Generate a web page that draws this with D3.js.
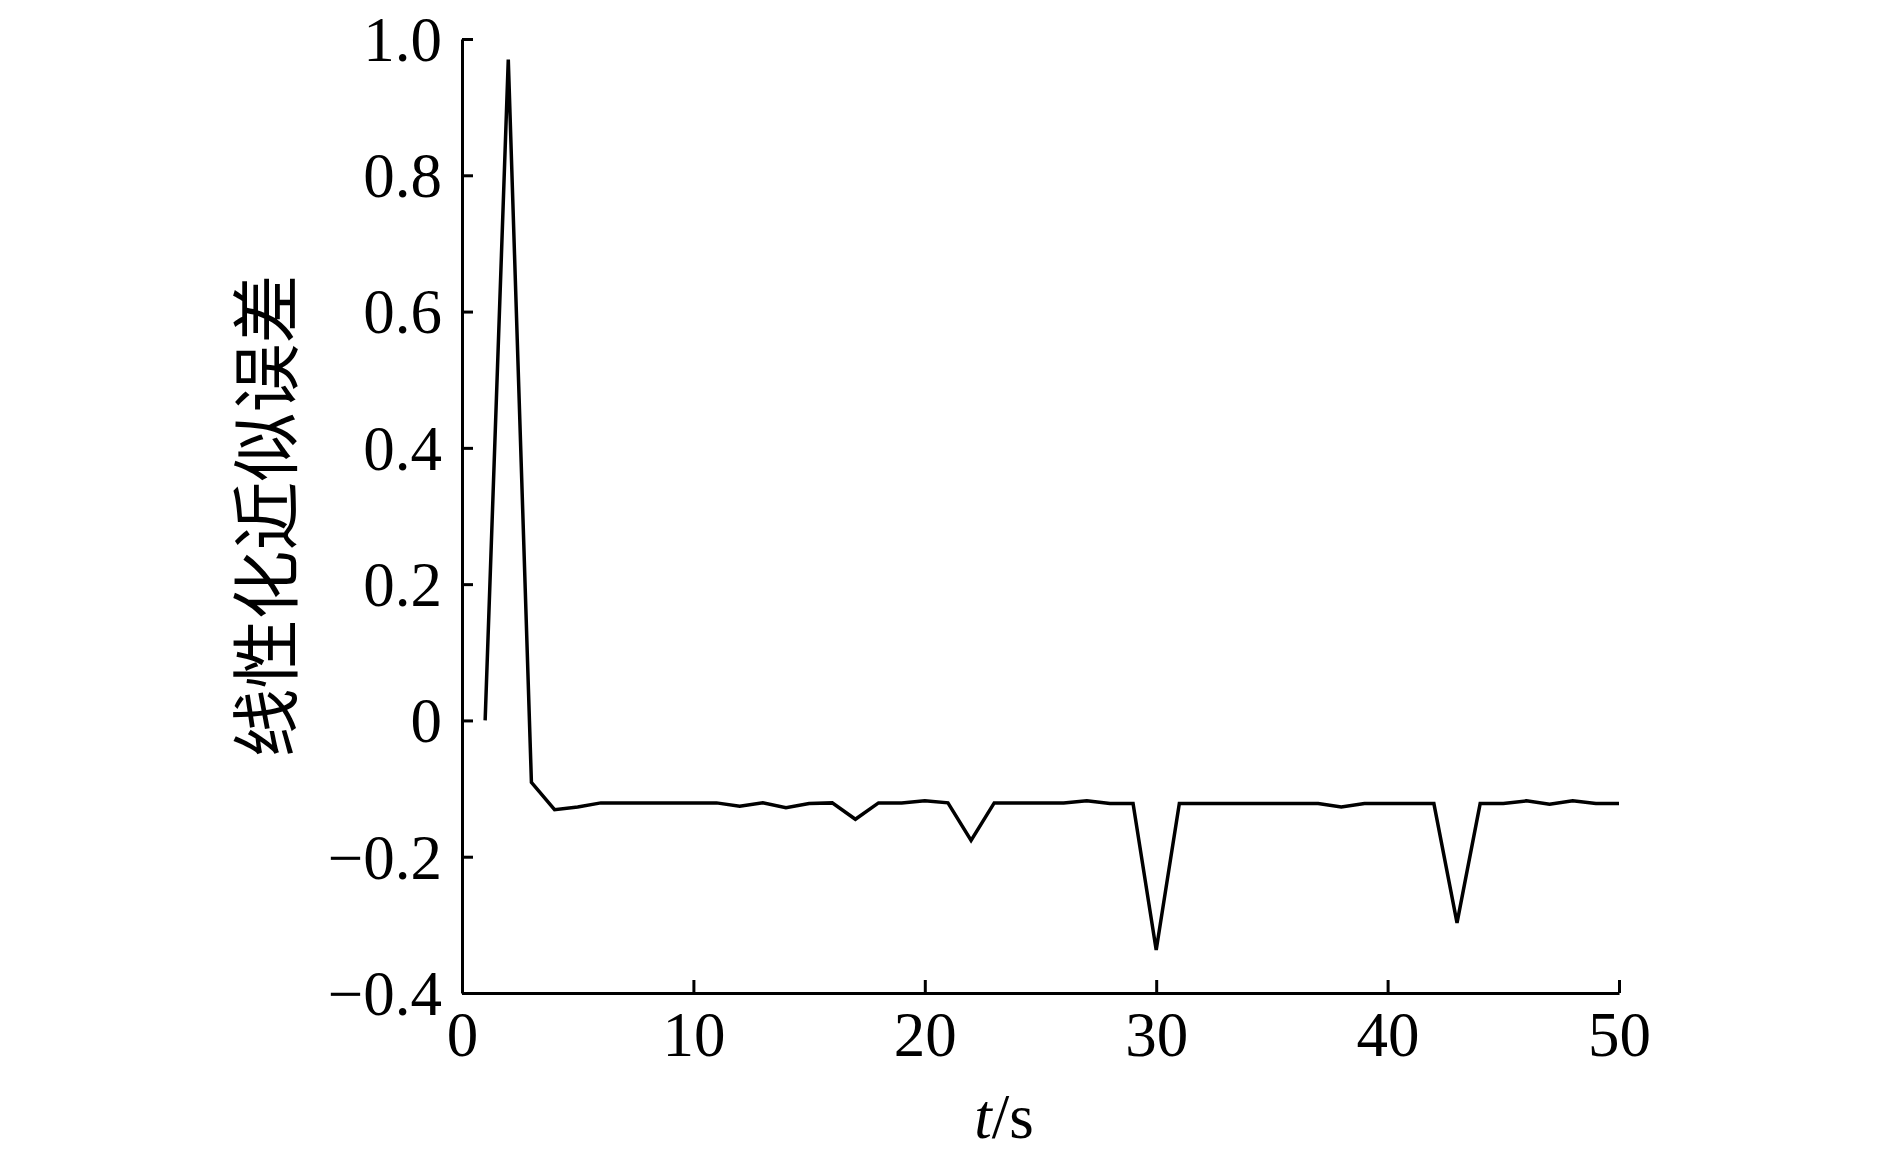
<!DOCTYPE html>
<html>
<head>
<meta charset="utf-8">
<script src="https://cdn.jsdelivr.net/npm/d3@7"></script>
<style>
body{margin:0;background:#fff;}
</style>
</head>
<body>
<svg id="canvas" width="1890" height="1159"></svg>
<script>
let times=[1,2,3,4,5,6,7,8,9,10,11,12,13,14,15,16,17,18,19,20,21,22,23,24,25,26,27,28,29,30,31,32,33,34,35,36,37,38,39,40,41,42,43,44,45,46,47,48,49,50];
let errors=[0,0.97,-0.091,-0.131,-0.127,-0.121,-0.121,-0.121,-0.121,-0.121,-0.121,-0.126,-0.121,-0.128,-0.122,-0.121,-0.145,-0.121,-0.121,-0.118,
-0.121,-0.176,-0.121,-0.121,-0.121,-0.121,-0.118,-0.122,-0.122,-0.337,-0.122,-0.122,-0.122,-0.122,-0.122,-0.122,-0.122,-0.127,-0.122,-0.122,
-0.122,-0.122,-0.297,-0.122,-0.122,-0.118,-0.123,-0.118,-0.122,-0.122];
let xTicks=[0,10,20,30,40,50];
let yTicks=[-0.4,-0.2,0,0.2,0.4,0.6,0.8,1.0];
let yLabels=["\u22120.4","\u22120.2","0","0.2","0.4","0.6","0.8","1.0"];

let canvas=d3.select('#canvas');
let padL=462,padR=1619,padT=39,padB=993;

let xScale=d3.scaleLinear().domain([0,50]).range([padL,padR]);
let yScale=d3.scaleLinear().domain([-0.4,1.0]).range([padB,padT]);

let xAxis=d3.axisBottom(xScale).tickValues(xTicks).tickSizeInner(-13).tickSizeOuter(0).tickPadding(18).tickFormat(d3.format("d"));
let yAxis=d3.axisLeft(yScale).tickValues(yTicks).tickSizeInner(-11).tickSizeOuter(0).tickPadding(20).tickFormat((d,i)=>yLabels[i]);

let gx=canvas.append('g').attr('transform','translate(0,'+padB+')').call(xAxis);
let gy=canvas.append('g').attr('transform','translate('+padL+',0)').call(yAxis);

[gx,gy].forEach(g=>{
  g.selectAll('path,line').attr('stroke','#000').attr('stroke-width',3);
  g.selectAll('text').style('font-family','"Liberation Serif", "Times New Roman", serif').style('font-size','63px').attr('fill','#000');
});
gx.selectAll('text').attr('dy','0.72em');
gy.selectAll('text').attr('dy','0.34em');

let line=d3.line().x((d,i)=>xScale(times[i])).y(d=>yScale(d));
canvas.append('path').datum(errors).attr('d',line).attr('fill','none').attr('stroke','#000').attr('stroke-width',3.5).attr('stroke-linejoin','miter');

let xl=canvas.append('text').attr('x',1004).attr('y',1138).attr('text-anchor','middle')
  .style('font-family','"Liberation Serif", "Times New Roman", serif').style('font-size','63px');
xl.append('tspan').style('font-style','italic').text('t');
xl.append('tspan').text('/s');

canvas.append('text').attr('transform','translate(292,'+((padT+padB)/2)+') rotate(-90)').attr('text-anchor','middle')
  .style('font-family','"Noto Sans CJK SC", sans-serif').style('font-size','69px').text('线性化近似误差');
</script>
</body>
</html>
